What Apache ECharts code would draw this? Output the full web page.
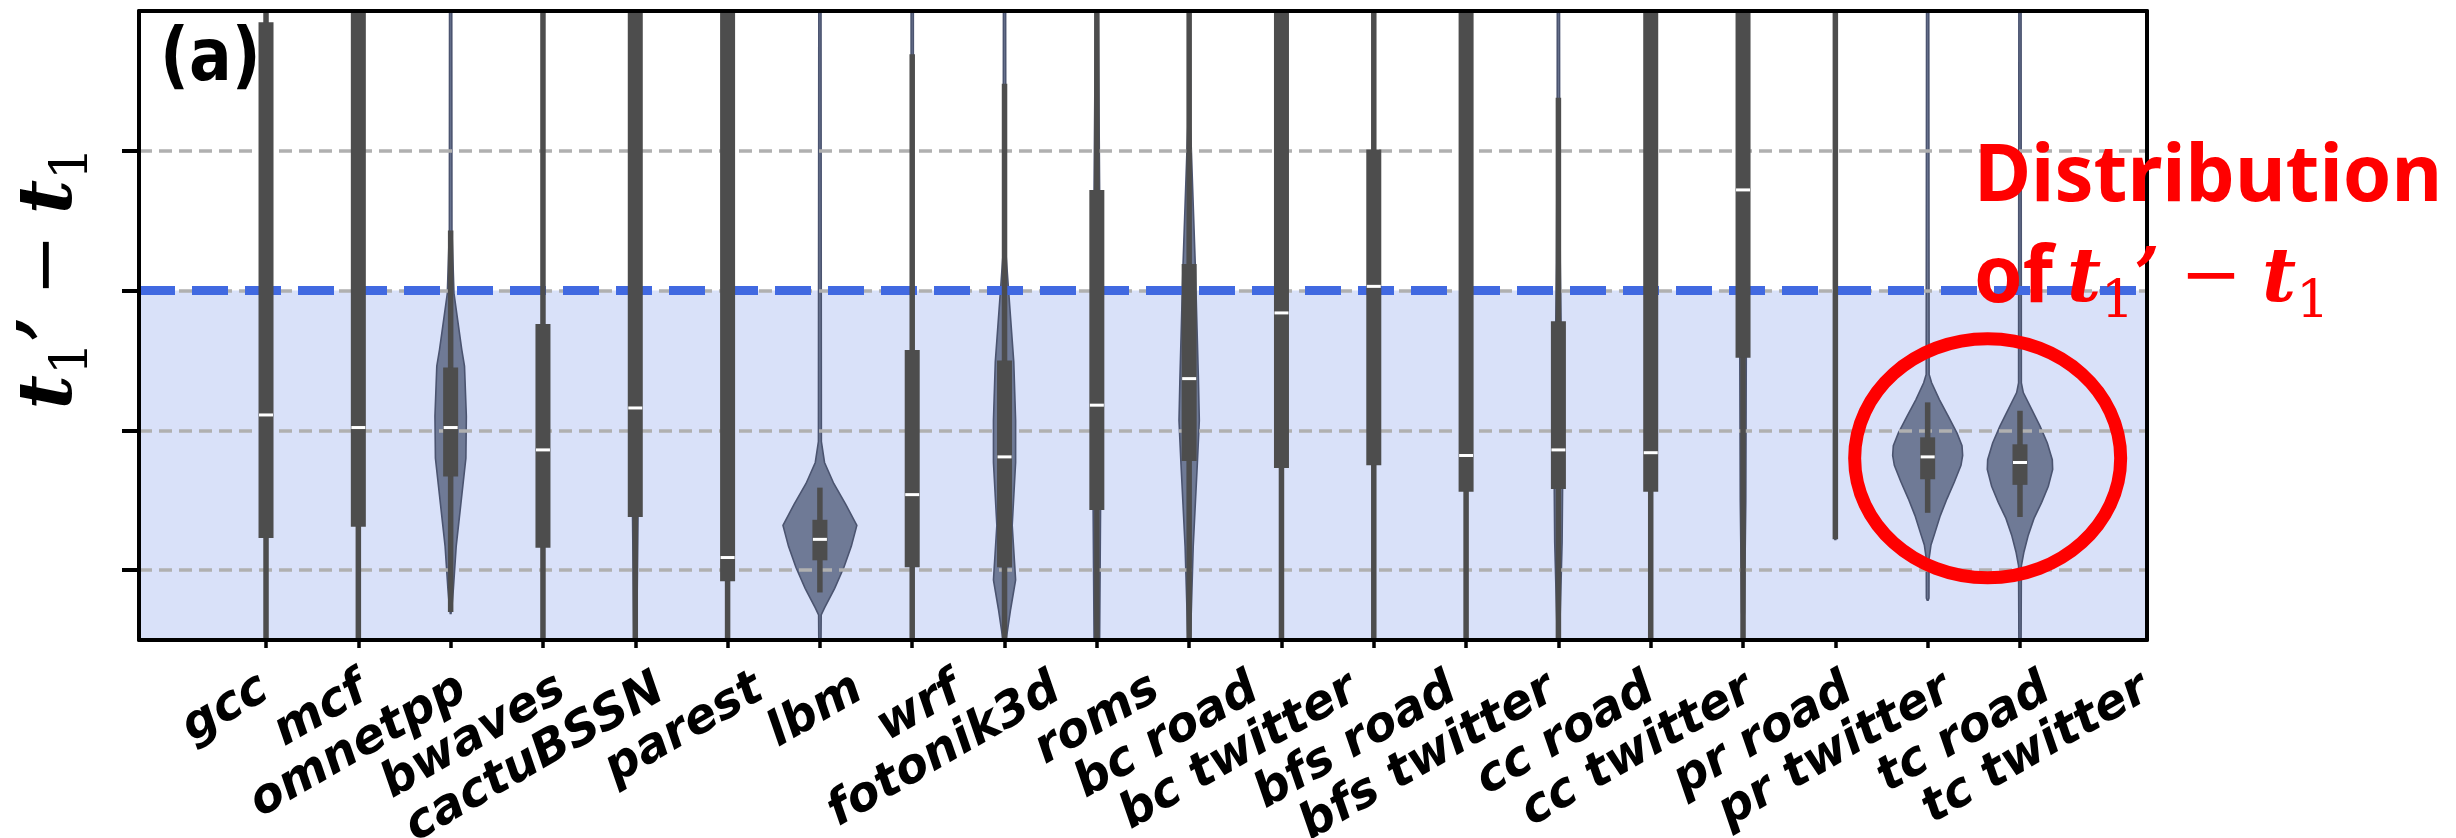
<!DOCTYPE html>
<html>
<head>
<meta charset="utf-8">
<script src="https://cdn.jsdelivr.net/npm/echarts@6/dist/echarts.min.js"></script>
<style>
html,body{margin:0;padding:0;background:#fff;}
#chart{width:2456px;height:838px;}
</style>
</head>
<body>
<div id="chart"></div>
<script>
// ---------------- data ----------------
const categories = ['gcc','mcf','omnetpp','bwaves','cactuBSSN','parest','lbm','wrf','fotonik3d','roms',
  'bc road','bc twitter','bfs road','bfs twitter','cc road','cc twitter','pr road','pr twitter','tc road','tc twitter'];
const yTicks = [0, 1, 2, 3];
const threshold = 2;
const yMin = -0.5, yMax = 4;

// inner box statistics (value units; 4 / -0.5 = runs past the plot edge)
const medians     = [1.11, 1.02, 1.02, 0.86, 1.16, 0.09, 0.22, 0.54, 0.81, 1.18, 1.37, 1.84, 2.03, 0.82, 0.86, 0.84, 2.72, null, 0.81, 0.77];
const q1          = [0.23, 0.31, 0.67, 0.16, 0.38, -0.08, 0.07, 0.02, 0.02, 0.43, 0.78, 0.73, 0.75, 0.56, 0.58, 0.56, 1.52, null, 0.65, 0.61];
const q3          = [3.92, 4, 1.45, 1.76, 4, 4, 0.36, 1.575, 1.50, 2.72, 2.19, 4, 3.01, 4, 1.78, 4, 4, null, 0.95, 0.90];
const whiskerLow  = [-0.5, -0.5, -0.3, -0.5, -0.5, -0.5, -0.16, -0.5, -0.5, -0.5, -0.5, -0.5, -0.5, -0.5, -0.5, -0.5, -0.5, 0.22, 0.41, 0.38];
const whiskerHigh = [4, 4, 2.43, 4, 4, 4, 0.59, 3.69, 3.48, 4, 4, 4, 4, 4, 3.38, 4, 4, 4, 1.2, 1.14];

// violin outlines: [value, half-width in category units]
const violinShapes = [
  [[-0.5,0.012],[4,0.012]],
  [[-0.5,0.012],[4,0.012]],
  [[-0.31,0.004],[-0.25,0.015],[-0.13,0.03],[0.17,0.06],[0.47,0.11],[0.8,0.165],[1.1,0.17],[1.46,0.15],[1.58,0.12],[1.98,0.036],[2.43,0.014],[4,0.012]],
  [[-0.5,0.012],[4,0.012]],
  [[-0.5,0.015],[0.4,0.03],[4,0.02]],
  [[-0.5,0.012],[4,0.012]],
  [[-0.5,0.012],[-0.32,0.014],[-0.27,0.05],[-0.13,0.16],[0.02,0.26],[0.17,0.34],[0.32,0.40],[0.47,0.28],[0.62,0.15],[0.77,0.05],[0.92,0.016],[4,0.012]],
  [[-0.5,0.012],[4,0.012]],
  [[-0.5,0.017],[-0.28,0.066],[-0.07,0.12],[0.32,0.083],[0.77,0.12],[1.07,0.12],[1.49,0.1],[2.0,0.044],[2.27,0.015],[4,0.012]],
  [[-0.5,0.03],[0.43,0.04],[2.72,0.03],[4,0.015]],
  [[-0.5,0.012],[-0.43,0.017],[0.17,0.044],[0.78,0.09],[1.07,0.11],[1.37,0.1],[2.19,0.066],[3.17,0.015],[4,0.012]],
  [[-0.5,0.012],[4,0.012]],
  [[-0.5,0.012],[4,0.012]],
  [[-0.5,0.012],[4,0.012]],
  [[-0.5,0.012],[-0.3,0.02],[0.2,0.04],[0.58,0.045],[1.2,0.04],[2.2,0.02],[3.38,0.013],[4,0.012]],
  [[-0.5,0.012],[4,0.012]],
  [[-0.42,0.005],[-0.3,0.015],[0.5,0.03],[1.52,0.035],[4,0.02]],
  [[0.22,0.005],[0.3,0.012],[4,0.012]],
  [[-0.215,0.005],[-0.2,0.014],[0.08,0.015],[0.18,0.036],[0.27,0.08],[0.39,0.137],[0.51,0.209],[0.63,0.289],[0.75,0.361],[0.82,0.379],[0.89,0.372],[0.98,0.318],[1.10,0.224],[1.22,0.127],[1.34,0.043],[1.40,0.016],[4,0.012]],
  [[-0.5,0.012],[0.03,0.015],[0.13,0.043],[0.25,0.09],[0.37,0.152],[0.485,0.235],[0.60,0.307],[0.72,0.354],[0.79,0.35],[0.91,0.296],[1.03,0.217],[1.15,0.127],[1.27,0.036],[1.34,0.015],[4,0.012]]
];
const tickIdx = categories.map((c, i) => i);

// ---------------- styles ----------------
const boxColor = '#4d4d4d';
const violinFill = '#6f7a96';
const violinEdge = '#4b5470';

function clampV(v) { return Math.max(yMin, Math.min(yMax, v)); }

function renderViolin(params, api) {
  const i = api.value(0);
  const prof = violinShapes[i];
  const right = prof.map(p => api.coord([i + p[1], clampV(p[0])]));
  const left = prof.slice().reverse().map(p => api.coord([i - p[1], clampV(p[0])]));
  return {
    type: 'polygon',
    shape: { points: right.concat(left) },
    style: { fill: violinFill, stroke: violinEdge, lineWidth: 1.6 }
  };
}

function renderBox(params, api) {
  const i = api.value(0);
  const cx = api.coord([i, 0])[0];
  const children = [];
  const yl = api.coord([i, clampV(whiskerLow[i])])[1];
  const yh = api.coord([i, clampV(whiskerHigh[i])])[1];
  children.push({ type: 'line', shape: { x1: cx, y1: yl, x2: cx, y2: yh }, style: { stroke: boxColor, lineWidth: 5.5 } });
  if (q1[i] != null) {
    const yTop = api.coord([i, clampV(q3[i])])[1];
    const yBot = api.coord([i, clampV(q1[i])])[1];
    children.push({ type: 'rect', shape: { x: cx - 7.5, y: yTop, width: 15, height: yBot - yTop }, style: { fill: boxColor } });
    const ym = api.coord([i, medians[i]])[1];
    children.push({ type: 'line', shape: { x1: cx - 7, y1: ym, x2: cx + 7, y2: ym }, style: { stroke: '#ffffff', lineWidth: 3 } });
  }
  return { type: 'group', children };
}

const chart = echarts.init(document.getElementById('chart'), null, { renderer: 'canvas' });

const spine = { color: '#000', width: 4 };
const option = {
  animation: false,
  backgroundColor: '#ffffff',
  grid: { left: 139, top: 11, width: 2008, height: 629, containLabel: false, outerBoundsMode: 'none' },
  xAxis: [
    { type: 'value', min: -1.376, max: 20.376, position: 'bottom', z: 10,
      axisLine: { show: true, onZero: false, lineStyle: spine },
      axisTick: { show: true, customValues: tickIdx, length: 8, lineStyle: { color: '#000', width: 3.5 } },
      axisLabel: { show: false }, splitLine: { show: false } },
    { type: 'value', min: -1.2727, max: 19.010, position: 'bottom',
      axisLine: { show: false, onZero: false }, axisTick: { show: false }, splitLine: { show: false },
      axisLabel: { show: true, customValues: tickIdx, hideOverlap: false, rotate: 30, margin: 46,
        formatter: v => categories[Math.round(v)],
        fontFamily: 'DejaVu Sans', fontWeight: 'bold', fontStyle: 'italic', fontSize: 48, color: '#000' } },
    { type: 'value', min: -1.376, max: 20.376, position: 'top', z: 10,
      axisLine: { show: true, onZero: false, lineStyle: spine },
      axisTick: { show: false }, axisLabel: { show: false }, splitLine: { show: false } }
  ],
  yAxis: [
    { type: 'value', min: yMin, max: yMax, position: 'left', z: 10,
      axisLine: { show: true, onZero: false, lineStyle: spine },
      axisTick: { show: true, customValues: yTicks, length: 17, lineStyle: { color: '#000', width: 4 } },
      axisLabel: { show: false }, splitLine: { show: false } },
    { type: 'value', min: yMin, max: yMax, position: 'right', z: 10,
      axisLine: { show: true, onZero: false, lineStyle: spine },
      axisTick: { show: false }, axisLabel: { show: false }, splitLine: { show: false } }
  ],
  series: [
    { type: 'line', data: [], z: 1, silent: true,
      markArea: { silent: true, itemStyle: { color: 'rgba(65,105,225,0.2)' },
        data: [[{ yAxis: yMin }, { yAxis: threshold }]] } },
    { type: 'custom', z: 2, silent: true, renderItem: renderViolin,
      data: categories.map((c, i) => [i, 0]), encode: { x: 0, y: 1 } },
    { type: 'line', data: [], z: 3, silent: true,
      markLine: { silent: true, symbol: ['none', 'none'], label: { show: false },
        lineStyle: { color: '#b0b0b0', width: 3.5, type: [13, 7] },
        data: yTicks.map(v => ({ yAxis: v })) } },
    { type: 'line', data: [], z: 4, silent: true,
      markLine: { silent: true, symbol: ['none', 'none'], label: { show: false },
        lineStyle: { color: '#4169e1', width: 9, type: [36, 17] },
        data: [{ yAxis: threshold }] } },
    { type: 'custom', z: 5, silent: true, renderItem: renderBox,
      data: categories.map((c, i) => [i, 0]), encode: { x: 0, y: 1 } }
  ]
};
chart.setOption(option);

// ---------------- annotations ----------------
function mathRich(color) {
  return {
    t: { fontFamily: 'DejaVu Serif', fontStyle: 'italic', fontWeight: 'bold', fontSize: 74, lineHeight: 74,
         padding: [0, 0, 10, 0], verticalAlign: 'bottom', fill: color, color: color },
    s: { fontFamily: 'DejaVu Serif', fontWeight: 'normal', fontSize: 52, lineHeight: 52,
         verticalAlign: 'bottom', fill: color, color: color },
    m: { fontFamily: 'DejaVu Serif', fontWeight: 'normal', fontSize: 74, lineHeight: 74,
         padding: [0, 20, 12, 20], verticalAlign: 'bottom', fill: color, color: color },
    o: { fontFamily: 'Noto Sans', fontWeight: 'bold', fontSize: 78, lineHeight: 78,
         padding: [0, 14, 10, 0], verticalAlign: 'bottom', fill: color, color: color }
  };
}
const mathText = '{t|t}{s|1}{t|\u2019}{m|\u2212}{t|t}{s|1}';
const ctr = chart.convertToPixel({ xAxisIndex: 0, yAxisIndex: 0 }, [18.65, 0.80]);

chart.setOption({
  graphic: [
    { type: 'text', z: 100, x: 160, y: 61, scaleX: 0.96, scaleY: 1.1,
      style: { text: '(a)', fontFamily: 'DejaVu Sans', fontWeight: 'bold', fontSize: 66, fill: '#000',
               align: 'left', verticalAlign: 'middle' } },
    { type: 'text', z: 100, x: 62, y: 278, rotation: Math.PI / 2,
      style: { text: mathText, rich: mathRich('#000'), align: 'center', verticalAlign: 'middle' } },
    { type: 'text', z: 100, x: 1974, y: 179,
      style: { text: 'Distribution', fontFamily: 'Noto Sans', fontWeight: 'bold', fontSize: 78, fill: '#ff0000',
               align: 'left', verticalAlign: 'middle' } },
    { type: 'text', z: 100, x: 1974, y: 290,
      style: { text: '{o|of}' + mathText, rich: mathRich('#ff0000'), align: 'left', verticalAlign: 'middle' } },
    { type: 'ellipse', z: 100, shape: { cx: ctr[0], cy: ctr[1], rx: 133, ry: 119.5 },
      style: { fill: 'none', stroke: '#ff0000', lineWidth: 13 } }
  ]
});
</script>
</body>
</html>
